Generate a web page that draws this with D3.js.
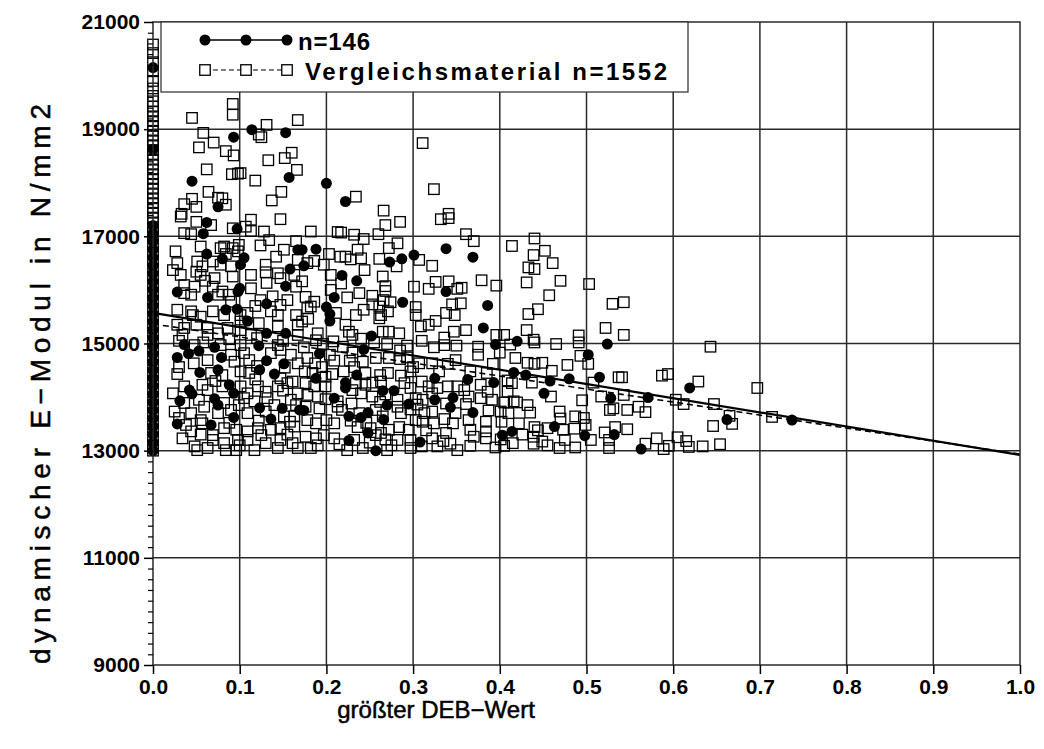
<!DOCTYPE html>
<html>
<head>
<meta charset="utf-8">
<script src="https://cdn.jsdelivr.net/npm/d3@7"></script>
<style>
  body { margin: 0; background: #fff; }
  text { font-family: "Liberation Sans", Arial, sans-serif; fill: #000; }
</style>
</head>
<body>
<svg id="chart" width="1044" height="749"></svg>
<script>
// ---- axis ticks -------------------------------------------------------
const xTickValues = [0, 0.1, 0.2, 0.3, 0.4, 0.5, 0.6, 0.7, 0.8, 0.9, 1.0];
const xTickLabels = ["0.0", "0.1", "0.2", "0.3", "0.4", "0.5", "0.6", "0.7", "0.8", "0.9", "1.0"];
const yTickValues = [9000, 11000, 13000, 15000, 17000, 19000, 21000];
const yTickLabels = ["9000", "11000", "13000", "15000", "17000", "19000", "21000"];
const yMinorStep = 200;

// ---- legend -----------------------------------------------------------
const seriesNames = ["n=146", "Vergleichsmaterial n=1552"];

// ---- regression lines [DEB, E-Modul] ------------------------------------
const studyFit = [[0, 15570], [1, 12920]];
const referenceFit = [[0, 15365], [1, 12935]];

// ---- study sample (filled circles), DEB = 0 stack ---------------------------
const studyAtZero = [13000, 13150, 13300, 13450, 13600, 13750, 13900, 14050, 14200, 14350,
  14500, 14650, 14800, 14950, 15100, 15250, 15400, 15550, 15700, 15850, 16000, 16150,
  16300, 16450, 16600, 16750, 16900, 17050, 17200, 18625, 20150];

// ---- study sample (filled circles), DEB > 0 --------------------------------
const studyPoints = [
  [.093,18850],[.114,18990],[.153,18935],[.045,18030],[.157,18100],[.075,17550],[.200,17990],
  [.222,17650],[.062,17260],[.058,17050],[.097,17140],[.062,16670],[.080,16580],[.105,16600],
  [.101,16470],[.158,16390],[.153,16070],[.028,15960],[.063,15860],[.100,16030],[.098,15970],
  [.131,15740],[.084,15630],[.097,15640],[.109,15420],[.167,16750],[.153,15190],[.131,15190],
  [.188,16760],[.172,16750],[.174,16450],[.273,16520],[.287,16580],[.301,16650],[.338,16770],
  [.218,16270],[.235,16170],[.209,15860],[.338,15970],[.288,15770],[.200,15680],[.204,15550],
  [.204,15420],[.252,15140],[.369,16610],[.386,15710],[.381,15290],[.420,15040],[.036,14980],
  [.041,14810],[.053,14860],[.071,14930],[.079,14740],[.028,14740],[.122,14960],[.131,14680],
  [.151,14620],[.054,14460],[.075,14510],[.123,14510],[.140,14430],[.088,14230],[.093,14070],
  [.042,14130],[.045,14060],[.031,13930],[.071,13970],[.075,13850],[.123,13800],[.149,13790],
  [.169,13760],[.093,13620],[.136,13590],[.028,13500],[.067,13480],[.192,14810],[.243,14890],
  [.188,14350],[.235,14410],[.222,14270],[.222,14170],[.265,14120],[.278,14120],[.209,13980],
  [.270,13850],[.295,13870],[.325,14350],[.325,13950],[.346,13990],[.343,13810],[.174,13750],
  [.226,13640],[.240,13620],[.248,13710],[.266,13580],[.248,13330],[.226,13190],[.257,13000],
  [.308,13160],[.395,14980],[.524,14990],[.502,14790],[.363,14330],[.393,14270],[.416,14460],
  [.430,14410],[.458,14300],[.480,14340],[.515,14370],[.528,13980],[.451,14070],[.369,13710],
  [.463,13450],[.414,13360],[.403,13290],[.498,13280],[.532,13300],[.619,14170],[.571,13990],
  [.662,13580],[.563,13030],[.737,13570]
];

// ---- comparison material (open squares), DEB = 0 stack ---------------------
const referenceAtZero = [20580, 20420, 20250, 20080, 19900, 19760, 19620, 19520, 19420, 19330,
  19240, 19150, 19060, 18970, 18880, 18790, 18700, 18610, 18520, 18430, 18340, 18250, 18160,
  18070, 17980, 17890, 17800, 17710, 17620, 17530, 17440, 17350, 17260, 17170, 17080, 16990,
  16850, 16700, 16550, 16400, 16250, 16100, 15950, 15800, 15650, 15500, 15350, 15200, 15050,
  14900, 14750, 14600, 14450, 14300, 14150, 14000, 13850, 13700, 13550, 13400, 13250, 13100, 13000];

// ---- comparison material (open squares), DEB > 0 ---------------------------
const referencePoints = [
  // upper part
  [.092,19470],[.092,19270],[.045,19210],[.131,19080],[.167,19170],[.058,18930],[.070,18750],
  [.053,18660],[.084,18590],[.093,18510],[.122,18900],[.125,18850],[.133,18420],[.152,18460],
  [.160,18560],[.166,18240],[.062,18250],[.091,18160],[.101,18180],[.098,18170],[.118,18040],
  [.064,17830],[.045,17700],[.036,17600],[.050,17550],[.075,17720],[.080,17710],[.084,17590],
  [.148,17830],[.137,17670],[.033,17420],[.311,18740],[.324,17880],[.234,17740],[.266,17480],
  [.341,17420],
  // 0.35 - 0.55, upper
  [.361,17040],[.370,16910],[.414,16820],[.440,16960],[.452,16730],[.439,16650],[.461,16500],
  [.433,16420],[.440,16390],[.379,16180],[.396,16080],[.431,16140],[.470,16170],[.503,16110],
  [.356,16040],[.457,15900],[.355,15750],[.433,15550],[.444,15640],[.530,15740],[.361,15250],
  [.431,15250],[.522,15290],[.396,15160],[.405,15160],[.491,15150],[.439,15070],[.543,15770],
  [.543,15160],
  // right tail
  [.643,14940],[.541,14370],[.587,14400],[.594,14430],[.629,14290],[.697,14170],[.543,14040],
  [.603,13950],[.612,13870],[.647,13870],[.560,13820],[.547,13760],[.568,13720],[.665,13650],
  [.668,13500],[.714,13630],[.646,13460],[.547,13400],[.581,13230],[.568,13130],[.605,13250],
  [.615,13180],[.595,13090],[.589,13030],[.618,13070],[.634,13080],[.654,13120],
  // 0.35 - 0.55, lower
  [.375,14940],[.375,14790],[.400,14830],[.412,14980],[.440,15020],[.465,14990],[.491,15020],
  [.418,14730],[.432,14640],[.440,14620],[.449,14640],[.478,14600],[.502,14620],[.493,14770],
  [.537,14370],[.366,14480],[.385,14450],[.409,14310],[.414,14260],[.437,14270],[.460,14490],
  [.359,14130],[.378,14230],[.386,14100],[.409,14100],[.364,14010],[.378,13980],[.391,13950],
  [.405,13900],[.416,13920],[.432,13850],[.435,13710],[.459,14010],[.469,13730],[.495,13940],
  [.508,14270],[.517,14010],[.527,13760],[.531,13790],[.361,13870],[.387,13750],[.364,13570],
  [.384,13540],[.401,13730],[.402,13540],[.410,13700],[.422,13510],[.440,13440],[.444,13380],
  [.455,13420],[.473,13390],[.487,13640],[.486,13410],[.497,13610],[.499,13480],[.366,13390],
  [.384,13360],[.384,13230],[.370,13260],[.366,13090],[.401,13210],[.405,13090],[.426,13300],
  [.439,13260],[.449,13170],[.439,13130],[.469,13050],[.487,13060],[.505,13200],[.521,13340],
  [.526,13200],[.526,13050],[.533,13440],[.455,13100],[.415,13140],[.395,13060],[.475,13200],
  [.420,13900],[.470,13600],[.392,14620],
  // 0.17 - 0.35, lower
  [.174,14930],[.196,14990],[.208,15040],[.219,14940],[.255,15020],[.270,14990],[.293,14960],
  [.324,14930],[.336,14970],[.350,14960],[.178,14730],[.187,14630],[.204,14790],[.209,14680],
  [.227,14680],[.242,14660],[.257,14730],[.272,14730],[.285,14710],[.293,14740],[.307,14630],
  [.322,14630],[.340,14620],[.349,14690],[.175,14480],[.184,14450],[.199,14380],[.207,14430],
  [.220,14480],[.245,14450],[.262,14410],[.271,14450],[.286,14400],[.297,14480],[.310,14290],
  [.176,14260],[.186,14200],[.199,14200],[.234,14260],[.245,14230],[.253,14270],[.263,14290],
  [.290,14260],[.297,14170],[.328,14170],[.340,14200],[.351,14200],[.178,14040],[.190,14010],
  [.199,13960],[.213,13920],[.213,13820],[.240,14070],[.253,14010],[.282,13950],[.282,13820],
  [.303,13980],[.311,13950],[.322,14070],[.176,13820],[.192,13790],[.238,13700],[.257,13760],
  [.286,13700],[.297,13770],[.313,13700],[.322,13730],[.336,13590],[.349,13700],[.178,13570],
  [.188,13510],[.200,13570],[.209,13510],[.236,13440],[.251,13420],[.257,13290],[.263,13330],
  [.272,13390],[.284,13440],[.295,13390],[.303,13570],[.311,13540],[.324,13510],[.346,13510],
  [.176,13260],[.188,13230],[.197,13290],[.209,13230],[.232,13200],[.242,13050],[.268,13210],
  [.282,13200],[.297,13200],[.297,13050],[.322,13230],[.328,13080],[.343,13130],[.351,13010],
  [.182,13050],[.224,13010],[.270,13010],[.190,13100],[.215,13120],[.250,13150],[.275,13100],
  [.310,13080],[.335,13180],[.315,13380],[.338,13330],[.228,13560],[.246,13520],[.265,13640],
  [.218,13760],[.229,13880],[.262,13910],[.305,13860],[.338,13880],[.230,14130],[.268,14050],
  [.318,14200],[.195,14560],[.232,14560],[.300,14560],[.330,14480],[.188,15060],[.240,15090],
  [.310,15050],[.285,14870],[.230,14830],
  // 0.17 - 0.35, upper
  [.182,17090],[.213,17080],[.217,17070],[.232,17030],[.243,16950],[.260,17040],[.268,17210],
  [.285,17270],[.332,17320],[.341,17340],[.236,16750],[.222,16620],[.240,16590],[.228,16570],
  [.216,16620],[.203,16670],[.186,16540],[.197,16470],[.178,16500],[.261,16580],[.272,16780],
  [.282,16870],[.281,16440],[.307,16560],[.322,16450],[.244,16370],[.265,16250],[.268,16070],
  [.268,15980],[.217,16120],[.205,16280],[.172,16160],[.301,16060],[.326,16150],[.318,16020],
  [.341,16160],[.351,16020],[.205,16000],[.224,15860],[.238,15940],[.253,15890],[.266,15810],
  [.176,15870],[.186,15780],[.178,15660],[.182,15690],[.172,15410],[.179,15460],[.211,15570],
  [.234,15530],[.243,15630],[.253,15730],[.261,15690],[.263,15530],[.271,15600],[.274,15770],
  [.261,15470],[.303,15680],[.303,15530],[.309,15320],[.318,15350],[.326,15420],[.338,15570],
  [.345,15730],[.348,15530],[.347,15220],[.190,15190],[.226,15220],[.222,15350],[.230,15160],
  [.265,15220],[.272,15220],[.284,15190],[.336,15110],
  // 0.0 - 0.17, upper
  [.032,17370],[.050,17270],[.067,17210],[.036,17060],[.044,17040],[.092,17150],[.113,17310],
  [.107,17180],[.113,17100],[.128,17090],[.147,17320],[.165,16910],[.124,16830],[.134,16930],
  [.026,16720],[.055,16810],[.082,16810],[.078,16780],[.092,16780],[.098,16720],[.084,16670],
  [.099,16840],[.142,16620],[.151,16750],[.167,16560],[.028,16500],[.051,16530],[.057,16440],
  [.069,16530],[.078,16470],[.090,16440],[.023,16370],[.032,16280],[.050,16340],[.055,16280],
  [.071,16220],[.092,16250],[.113,16280],[.130,16470],[.130,16330],[.144,16310],[.147,16220],
  [.163,16280],[.165,16060],[.131,16130],[.036,16090],[.048,16060],[.044,15910],[.036,15940],
  [.069,16060],[.080,15970],[.075,15910],[.113,16030],[.088,15910],[.138,15880],[.124,15810],
  [.147,15720],[.155,15810],[.028,15630],[.044,15600],[.046,15530],[.055,15500],[.069,15600],
  [.082,15530],[.101,15530],[.109,15570],[.101,15410],[.136,15600],[.144,15530],[.165,15530],
  [.028,15350],[.036,15290],[.050,15350],[.063,15290],[.075,15190],[.086,15290],[.101,15250],
  [.122,15380],[.144,15320],[.167,15350],[.034,15160],[.063,15160],[.113,15160],[.167,15160],
  [.058,15020],[.088,15080],[.120,15100],[.150,15050],[.118,15700],[.090,15780],[.060,16170],
  // 0.0 - 0.17, lower
  [.028,14430],[.047,14630],[.063,14690],[.090,14790],[.094,14660],[.105,14820],[.111,14690],
  [.136,14820],[.147,14880],[.159,14790],[.167,14630],[.048,14970],[.078,14970],[.101,14970],
  [.144,14970],[.067,14450],[.080,14410],[.101,14480],[.111,14450],[.147,14350],[.161,14290],
  [.023,14070],[.036,14200],[.057,14230],[.063,14130],[.080,14200],[.101,14200],[.109,14070],
  [.121,14200],[.130,14100],[.144,14200],[.155,14260],[.167,14070],[.036,13890],[.053,13950],
  [.059,13820],[.082,13890],[.099,13850],[.105,13980],[.117,13920],[.132,13980],[.140,13850],
  [.159,13950],[.165,13850],[.025,13730],[.044,13700],[.055,13570],[.075,13700],[.090,13760],
  [.109,13700],[.130,13730],[.151,13640],[.163,13640],[.038,13480],[.044,13360],[.057,13510],
  [.069,13290],[.082,13420],[.096,13390],[.109,13360],[.121,13420],[.136,13390],[.147,13420],
  [.163,13450],[.034,13230],[.048,13080],[.063,13050],[.069,13200],[.082,13140],[.098,13200],
  [.109,13200],[.130,13140],[.147,13200],[.161,13140],[.051,13010],[.084,13010],[.096,13010],
  [.117,13010],[.144,13050],[.167,13050],[.030,15050],[.120,14580],[.152,14550],[.030,14560],
  [.072,14300],[.118,14330],[.150,14120],[.030,13610],[.088,13520],[.122,13560],[.158,13540],
  [.055,13300],[.100,13100],[.125,13290],[.155,13300]
];

// ---- layout -----------------------------------------------------------
const svg = d3.select("#chart");
const plotLeft = 153, plotRight = 1020, plotTop = 22, plotBottom = 665;

const x = d3.scaleLinear().domain([0, 1]).range([plotLeft, plotRight]);
const y = d3.scaleLinear().domain([9000, 21000]).range([plotBottom, plotTop]);

svg.append("rect").attr("width", 1044).attr("height", 749).attr("fill", "#fff");

// grid
const grid = svg.append("g").attr("stroke", "#2a2a2a").attr("stroke-width", 1.5);
grid.selectAll("line.v").data(xTickValues.slice(1, -1)).join("line").attr("class", "v")
  .attr("x1", d => x(d)).attr("x2", d => x(d)).attr("y1", plotTop).attr("y2", plotBottom);
grid.selectAll("line.h").data(yTickValues.slice(1, -1)).join("line").attr("class", "h")
  .attr("x1", plotLeft).attr("x2", plotRight).attr("y1", d => y(d)).attr("y2", d => y(d));

// markers
const SQ = 10.5, R = 5.5;
const refAll = referenceAtZero.map(v => [0, v]).concat(referencePoints);
const studyAll = studyAtZero.map(v => [0, v]).concat(studyPoints);

svg.append("g").selectAll("rect").data(refAll).join("rect")
  .attr("x", d => x(d[0]) - SQ / 2).attr("y", d => y(d[1]) - SQ / 2)
  .attr("width", SQ).attr("height", SQ)
  .attr("fill", "none").attr("stroke", "#000").attr("stroke-width", 1.3);

svg.append("g").selectAll("circle").data(studyAll).join("circle")
  .attr("cx", d => x(d[0])).attr("cy", d => y(d[1])).attr("r", R).attr("fill", "#000");

// regression lines
const line = d3.line().x(d => x(d[0])).y(d => y(d[1]));
svg.append("path").datum(referenceFit).attr("d", line)
  .attr("fill", "none").attr("stroke", "#000").attr("stroke-width", 1.6)
  .attr("stroke-dasharray", "6,4");
svg.append("path").datum(studyFit).attr("d", line)
  .attr("fill", "none").attr("stroke", "#000").attr("stroke-width", 2.2);

// frame
svg.append("rect").attr("x", plotLeft).attr("y", plotTop)
  .attr("width", plotRight - plotLeft).attr("height", plotBottom - plotTop)
  .attr("fill", "none").attr("stroke", "#2a2a2a").attr("stroke-width", 1.5);

// y axis: minor ticks then major ticks with labels
const yMinor = d3.range(9000, 21000 + 1, yMinorStep).filter(v => !yTickValues.includes(v));
svg.append("g").attr("transform", `translate(${plotLeft},0)`)
  .call(d3.axisLeft(y).tickValues(yMinor).tickSize(5).tickFormat(""))
  .call(g => g.select(".domain").remove())
  .call(g => g.selectAll("line").attr("stroke", "#000").attr("stroke-width", 1.2));

svg.append("g").attr("transform", `translate(${plotLeft},0)`)
  .call(d3.axisLeft(y).tickValues(yTickValues).tickSize(9).tickPadding(4)
    .tickFormat((d, i) => yTickLabels[i]))
  .call(g => g.select(".domain").remove())
  .call(g => g.selectAll("line").attr("stroke", "#000").attr("stroke-width", 1.5))
  .call(g => g.selectAll("text").attr("font-size", 21).attr("font-weight", "bold")
    .attr("font-family", "Liberation Sans, Arial, sans-serif").attr("fill", "#000"));

// x axis
svg.append("g").attr("transform", `translate(0,${plotBottom})`)
  .call(d3.axisBottom(x).tickValues(xTickValues).tickSize(9).tickPadding(5)
    .tickFormat((d, i) => xTickLabels[i]))
  .call(g => g.select(".domain").remove())
  .call(g => g.selectAll("line").attr("stroke", "#000").attr("stroke-width", 1.5))
  .call(g => g.selectAll("text").attr("font-size", 21).attr("font-weight", "bold")
    .attr("font-family", "Liberation Sans, Arial, sans-serif").attr("fill", "#000"));

// axis titles
svg.append("text").attr("x", 436).attr("y", 718).attr("text-anchor", "middle")
  .attr("font-size", 24).attr("stroke", "#000").attr("stroke-width", 0.5)
  .text("größter DEB\u2212Wert");
svg.append("text").attr("transform", "translate(40,384) rotate(-90)")
  .attr("text-anchor", "middle").attr("dominant-baseline", "central")
  .attr("font-size", 28).attr("stroke", "#000").attr("stroke-width", 0.5)
  .attr("textLength", 560).attr("lengthAdjust", "spacing")
  .text("dynamischer E\u2212Modul in N/mm2");

// legend
const lg = svg.append("g");
lg.append("rect").attr("x", 161).attr("y", plotTop).attr("width", 527).attr("height", 70)
  .attr("fill", "#fff").attr("stroke", "#2a2a2a").attr("stroke-width", 1.2);
const lx = [205, 246, 287];
lg.append("line").attr("x1", lx[0]).attr("x2", lx[2]).attr("y1", 40).attr("y2", 40)
  .attr("stroke", "#000").attr("stroke-width", 1.5);
lg.selectAll("circle").data(lx).join("circle")
  .attr("cx", d => d).attr("cy", 40).attr("r", R).attr("fill", "#000");
lg.append("line").attr("x1", lx[0]).attr("x2", lx[2]).attr("y1", 70).attr("y2", 70)
  .attr("stroke", "#000").attr("stroke-width", 1.2).attr("stroke-dasharray", "5,3");
lg.selectAll("rect.m").data(lx).join("rect").attr("class", "m")
  .attr("x", d => d - SQ / 2).attr("y", 70 - SQ / 2).attr("width", SQ).attr("height", SQ)
  .attr("fill", "#fff").attr("stroke", "#000").attr("stroke-width", 1.3);
lg.append("text").attr("x", 298).attr("y", 41).attr("dominant-baseline", "central")
  .attr("font-size", 24).attr("font-weight", "bold")
  .attr("textLength", 72).attr("lengthAdjust", "spacing").text(seriesNames[0]);
lg.append("text").attr("x", 305).attr("y", 71).attr("dominant-baseline", "central")
  .attr("font-size", 24).attr("font-weight", "bold")
  .attr("textLength", 362).attr("lengthAdjust", "spacing").text(seriesNames[1]);
</script>
</body>
</html>
